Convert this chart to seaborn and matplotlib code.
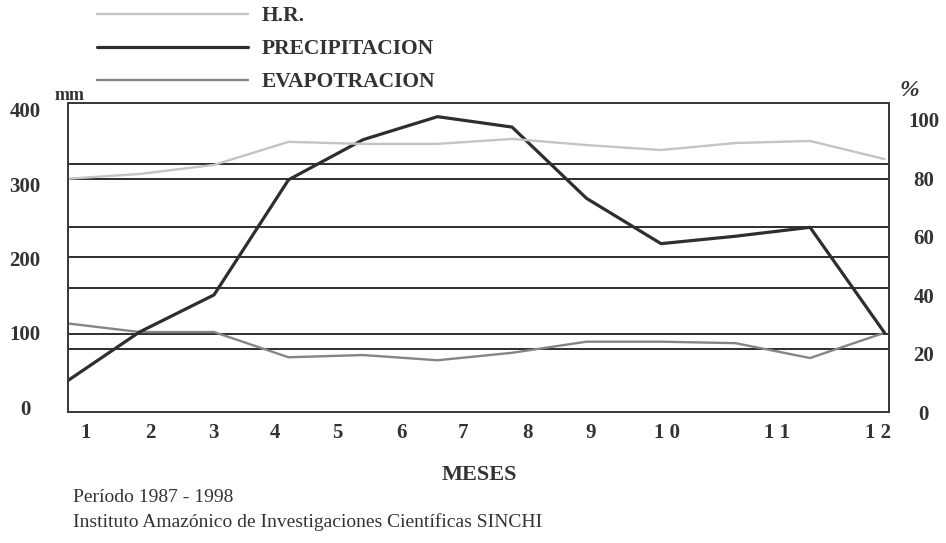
import matplotlib
matplotlib.use("Agg")
import matplotlib.pyplot as plt
import seaborn as sns

# Data
months = list(range(1, 13))
precipitacion = [33, 101, 151, 306, 360, 391, 377, 281, 220, 230, 242, 100]   # mm
evapotracion = [113, 101, 101, 67, 70, 63, 73, 88, 88, 86, 66, 100]          # mm
humedad = [79.8, 81.5, 84.6, 92.5, 91.8, 91.8, 93.5, 91.4, 89.7, 92.1, 92.8, 86.6]  # %
guide_mm = [327, 307, 242, 202, 160, 99, 78]
month_labels = ["1", "2", "3", "4", "5", "6", "7", "8", "9", "1 0", "1 1", "1 2"]
mm_ticks = [0, 100, 200, 300, 400]
pct_ticks = [0, 20, 40, 60, 80, 100]

# where the typed month labels sit along the x scale
label_pos = [1.28, 2.14, 2.99, 3.82, 4.65, 5.51, 6.34, 7.21, 8.06, 9.08, 10.56, 11.91]

sns.set_style("white")
plt.rcParams["font.family"] = ["Liberation Serif", "DejaVu Serif"]

W, H = 946, 543
fig = plt.figure(figsize=(W / 100, H / 100), dpi=100)
ax = fig.add_axes([68 / W, 1 - 412 / H, (889 - 68) / W, (412 - 103) / H])
ax2 = ax.twinx()

dark = "#2e2e2e"
txt = "#333333"
for v in guide_mm:
    ax.axhline(v, color=dark, lw=1.4, zorder=1)

sns.lineplot(x=months, y=evapotracion, ax=ax, color="#858585", linewidth=1.7, legend=False, zorder=3)
sns.lineplot(x=months, y=precipitacion, ax=ax, color=dark, linewidth=2.3, legend=False, zorder=4)
sns.lineplot(x=months, y=humedad, ax=ax2, color="#c4c4c4", linewidth=1.7, legend=False, zorder=2)

ax.set_xlim(1.04, 12.06)
ax.set_ylim(-6.7, 409.4)
ax2.set_ylim(0, 105.8)
ax.set_xlabel("")
ax.set_ylabel("")
ax2.set_ylabel("")

ax.set_xticks(label_pos, month_labels)
ax.set_yticks(mm_ticks, [str(t) for t in mm_ticks])
ax2.set_yticks(pct_ticks, [str(t) for t in pct_ticks])
ax.tick_params(axis="x", length=0, pad=8, labelsize=15, colors=txt)
ax.tick_params(axis="y", length=0, pad=31, labelsize=15, colors=txt)
ax2.tick_params(axis="y", length=0, pad=25, labelsize=15, colors=txt)
for lab in ax.get_xticklabels() + ax.get_yticklabels() + ax2.get_yticklabels():
    lab.set_fontweight("bold")
for lab in ax.get_yticklabels() + ax2.get_yticklabels():
    lab.set_horizontalalignment("center")

for a in (ax, ax2):
    for s in a.spines.values():
        s.set_visible(True)
        s.set_color("#3a3a3a")
        s.set_linewidth(1.3)

handles = [ax2.lines[0], ax.lines[-1], ax.lines[-2]]
labels = ["H.R.", "PRECIPITACION", "EVAPOTRACION"]
fig.legend(handles, labels, loc="upper left", bbox_to_anchor=(97 / W, 1 - 6 / H),
           frameon=False, handlelength=7.0, handletextpad=0.65, labelspacing=0.6,
           borderpad=0, borderaxespad=0, prop={"weight": "bold", "size": 15.5},
           labelcolor=txt)

fig.text(70 / W, 1 - 95 / H, "mm", ha="center", va="center", fontsize=13,
         fontweight="bold", color=txt)
fig.text(909 / W, 1 - 91 / H, "%", ha="center", va="center", fontsize=17,
         fontweight="bold", style="italic", color=txt)
fig.text(479 / W, 1 - 475 / H, "MESES", ha="center", va="center", fontsize=16,
         fontweight="bold", color=txt)
fig.text(73 / W, 1 - 497 / H, "Período 1987 - 1998", ha="left", va="center",
         fontsize=14, color=txt)
fig.text(73 / W, 1 - 522 / H, "Instituto Amazónico de Investigaciones Científicas SINCHI",
         ha="left", va="center", fontsize=14, color=txt)

fig.savefig("out.png", dpi=100)
